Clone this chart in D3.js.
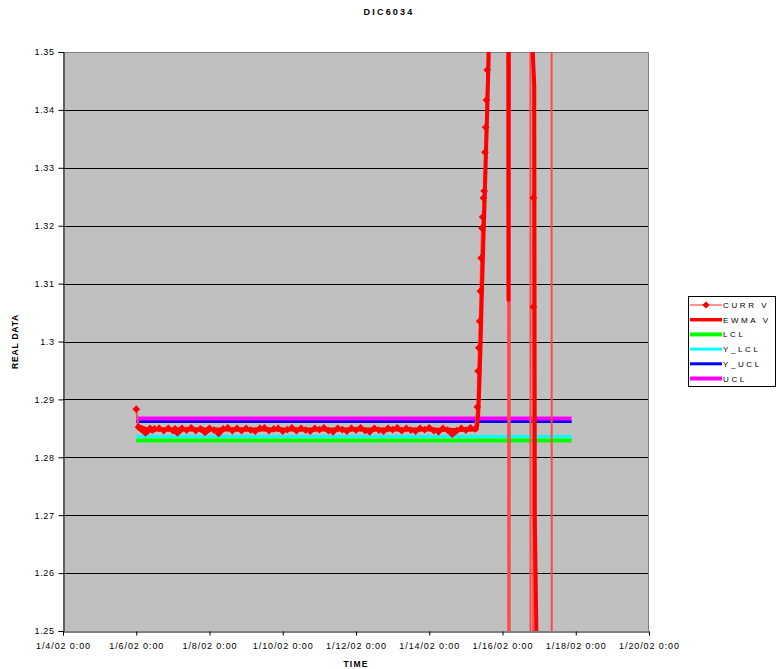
<!DOCTYPE html>
<html><head><meta charset="utf-8">
<script src="https://cdn.jsdelivr.net/npm/d3@7"></script>
<style>
body{margin:0;background:#fff;}
svg{display:block;font-family:Arial,"Liberation Sans",sans-serif;}
</style>
</head><body>
<svg id="chart" width="776" height="669"></svg>
<script>
// ---------------- data ----------------
const chartTitle = "DIC6034";
const xAxisTitle = "TIME";
const yAxisTitle = "REAL DATA";
const xTickDays = [4, 6, 8, 10, 12, 14, 16, 18, 20];
const xTickLabels = ["1/4/02 0:00","1/6/02 0:00","1/8/02 0:00","1/10/02 0:00","1/12/02 0:00","1/14/02 0:00","1/16/02 0:00","1/18/02 0:00","1/20/02 0:00"];
const yTickValues = [1.25, 1.26, 1.27, 1.28, 1.29, 1.3, 1.31, 1.32, 1.33, 1.34, 1.35];
const yTickLabels = ["1.25","1.26","1.27","1.28","1.29","1.3","1.31","1.32","1.33","1.34","1.35"];
const seriesNames = ["CURR V", "EWMA V", "LCL", "Y_LCL", "Y_UCL", "UCL"];
const seriesColors = ["#ff4a4a", "#ff0000", "#00ff00", "#00ffff", "#0000ff", "#ff00ff"];

// hours after 1/6/02 0:00
const currHours = [0,1.5,3,4.5,6,7.5,9,10.5,12,15,18,21,24,25.5,27,28.5,30,33,36,39,42,43.5,45,46.5,48,51,54,55.5,57,60,63,66,69,72,75,78,81,84,87,90,93,96,99,102,105,108,111,114,117,120,123,126,129,132,135,138,141,144,147,150,153,156,159,162,165,168,171,174,177,180,183,186,189,192,195,198,201,204,205.5,207,208.5,210,213,216,219,222,
  223.5,224,224.5,225,225.5,226,226.5,227,227.5,228,228.5,229,229.5,230,230.5,231,
  235,240,243.5,243.8,244.2,244.6,245,250,258.2,258.4,260.05,260.15,260.25,260.35,266,272.1,272.3,280,285.3];
const currValues = [1.2883,1.2852,1.2849,1.2846,1.2842,1.2845,1.2850,1.2847,1.2849,1.2850,1.2846,1.2850,1.2846,1.2849,1.2842,1.2846,1.2850,1.2847,1.2851,1.2846,1.2849,1.2847,1.2843,1.2846,1.2850,1.2847,1.2841,1.2846,1.2849,1.2851,1.2846,1.2850,1.2846,1.2850,1.2847,1.2845,1.2850,1.2851,1.2846,1.2849,1.2850,1.2845,1.2848,1.2851,1.2846,1.2850,1.2847,1.2845,1.2850,1.2848,1.2851,1.2846,1.2844,1.2850,1.2848,1.2845,1.2850,1.2847,1.2851,1.2846,1.2844,1.2850,1.2847,1.2845,1.2850,1.2848,1.2851,1.2846,1.2850,1.2847,1.2845,1.2850,1.2848,1.2851,1.2846,1.2844,1.2850,1.2847,1.2845,1.2840,1.2843,1.2846,1.2850,1.2847,1.2851,1.2849,
  1.2887,1.2949,1.2989,1.3035,1.3087,1.3144,1.3196,1.3215,1.3248,1.3260,1.3327,1.3370,1.3417,1.3469,1.3530,1.3800,
  1.40,1.42,1.45,1.20,1.45,1.20,1.45,1.44,1.45,1.20,1.20,1.306,1.3248,1.45,1.44,1.45,1.20,1.21,1.20];

const ewmaHours = [0,6,12,24,48,72,96,120,144,168,192,210,223,
  223.5,224,224.5,225,225.5,226,226.5,227,227.5,228,228.5,229,229.5,230,230.5,231,231.5,232,
  240,243.6,243.9,244.2,252,259.5,259.8,260.8,261.2,262.2,263,275,285.3];
const ewmaValues = [1.2855,1.2849,1.2848,1.2848,1.2848,1.2848,1.2848,1.2848,1.2848,1.2848,1.2848,1.2847,1.2848,
  1.2856,1.2872,1.2900,1.2940,1.2985,1.3035,1.3085,1.3132,1.3178,1.3220,1.3265,1.3310,1.3355,1.3400,1.3450,1.3500,1.3560,1.3700,
  1.40,1.42,1.3072,1.40,1.41,1.39,1.3500,1.3443,1.2692,1.2500,1.22,1.20,1.20];

const limitHours = [0, 285.3];
const lclValues  = [1.2829, 1.2829];
const ylclValues = [1.2836, 1.2836];
const yuclValues = [1.2862, 1.2862];
const uclValues  = [1.2867, 1.2867];

// ---------------- chart ----------------
const svg = d3.select("#chart");
const M = {left: 63, right: 649, top: 52, bottom: 631};
const base = new Date(2002, 0, 6, 0, 0, 0).getTime();
const toDate = h => new Date(base + h * 3600000);

const x = d3.scaleTime()
  .domain([new Date(2002, 0, 4), new Date(2002, 0, 20)])
  .range([M.left, M.right]);
const y = d3.scaleLinear().domain([1.25, 1.35]).range([M.bottom, M.top]);

svg.append("rect").attr("x", M.left).attr("y", M.top)
  .attr("width", M.right - M.left).attr("height", M.bottom - M.top)
  .attr("fill", "#c0c0c0");

svg.append("g").selectAll("line").data(yTickValues.filter(v => v > 1.25 && v < 1.35))
  .join("line")
  .attr("x1", M.left).attr("x2", M.right)
  .attr("y1", d => Math.round(y(d)) + 0.5).attr("y2", d => Math.round(y(d)) + 0.5)
  .attr("stroke", "#000").attr("stroke-width", 1);

svg.append("path")
  .attr("d", `M${M.left},${M.top + 0.5}H${M.right - 0.5}V${M.bottom}`)
  .attr("fill", "none").attr("stroke", "#808080").attr("stroke-width", 1);

svg.append("defs").append("clipPath").attr("id", "clip")
  .append("rect").attr("x", M.left).attr("y", M.top)
  .attr("width", M.right - M.left).attr("height", M.bottom - M.top);
const plot = svg.append("g").attr("clip-path", "url(#clip)");

const lineGen = d3.line().x(d => x(toDate(d[0]))).y(d => y(d[1]));

const limits = [
  {vals: lclValues,  color: seriesColors[2], w: 4},
  {vals: ylclValues, color: seriesColors[3], w: 3},
  {vals: yuclValues, color: seriesColors[4], w: 3},
  {vals: uclValues,  color: seriesColors[5], w: 4}
];
limits.forEach(s => {
  plot.append("path")
    .datum(limitHours.map((h, i) => [h, s.vals[i]]))
    .attr("d", lineGen).attr("fill", "none")
    .attr("stroke", s.color).attr("stroke-width", s.w);
});

const currData = currHours.map((h, i) => [h, currValues[i]]);
plot.append("path").datum(currData).attr("d", lineGen)
  .attr("fill", "none").attr("stroke", seriesColors[0]).attr("stroke-width", 2)
  .attr("stroke-linejoin", "round");

const ewmaData = ewmaHours.map((h, i) => [h, ewmaValues[i]]);
plot.append("path").datum(ewmaData).attr("d", lineGen)
  .attr("fill", "none").attr("stroke", seriesColors[1]).attr("stroke-width", 4)
  .attr("stroke-linejoin", "round");

const diamond = d3.symbol(d3.symbolSquare, 30)();
plot.append("g").selectAll("path").data(currData).join("path")
  .attr("d", diamond)
  .attr("transform", d => `translate(${x(toDate(d[0]))},${y(d[1])}) rotate(45)`)
  .attr("fill", "#ff0000");

const yAxis = svg.append("g").attr("transform", `translate(${M.left + 0.5},0)`)
  .call(d3.axisLeft(y).tickValues(yTickValues).tickSize(5).tickFormat((d, i) => yTickLabels[i]));
yAxis.select(".domain").attr("stroke", "#000");
yAxis.selectAll(".tick line").attr("stroke", "#000");
yAxis.selectAll("text").attr("font-size", 9).attr("fill", "#000")
  .attr("letter-spacing", 0.6).attr("x", -9).attr("font-family", "Arial, 'Liberation Sans', sans-serif");

const xTickDates = xTickDays.map(d => new Date(2002, 0, d));
const xAxis = svg.append("g").attr("transform", `translate(0,${M.bottom + 0.5})`)
  .call(d3.axisBottom(x).tickValues(xTickDates).tickSize(4).tickFormat((d, i) => xTickLabels[i]));
xAxis.select(".domain").attr("stroke", "#000");
xAxis.selectAll(".tick line").attr("stroke", "#000");
xAxis.selectAll("text").attr("font-size", 9).attr("fill", "#000")
  .attr("letter-spacing", 0.9).attr("y", 11).attr("font-family", "Arial, 'Liberation Sans', sans-serif");

svg.append("text").attr("x", 389).attr("y", 15).attr("text-anchor", "middle")
  .attr("font-size", 9).attr("font-weight", "bold").attr("letter-spacing", 2.2)
  .text(chartTitle);
svg.append("text").attr("x", 356).attr("y", 667).attr("text-anchor", "middle")
  .attr("font-size", 8.5).attr("font-weight", "bold").attr("letter-spacing", 1.2)
  .text(xAxisTitle);
svg.append("text").attr("transform", `translate(18,${(M.top + M.bottom) / 2}) rotate(-90)`)
  .attr("text-anchor", "middle")
  .attr("font-size", 8.5).attr("font-weight", "bold").attr("letter-spacing", 0.8)
  .text(yAxisTitle);

const lg = svg.append("g");
lg.append("rect").attr("x", 688.5).attr("y", 296.5).attr("width", 87).attr("height", 90)
  .attr("fill", "#fff").attr("stroke", "#000").attr("stroke-width", 1);
const legendWidths = [1.5, 3.5, 4, 3, 3, 4];
const legendY = d3.scalePoint().domain(seriesNames).range([305, 378.5]);
seriesNames.forEach((name, i) => {
  const yy = legendY(name);
  lg.append("line").attr("x1", 690).attr("x2", 722).attr("y1", yy).attr("y2", yy)
    .attr("stroke", i === 0 ? "#ff7070" : seriesColors[i]).attr("stroke-width", legendWidths[i]);
  if (i === 0) {
    lg.append("path").attr("d", d3.symbol(d3.symbolSquare, 26)())
      .attr("transform", `translate(706,${yy}) rotate(45)`).attr("fill", "#ff0000");
  }
  lg.append("text").attr("x", 723).attr("y", yy + 3)
    .attr("font-size", 8).attr("letter-spacing", 2.6).attr("fill", "#000")
    .text(name);
});
</script>
</body></html>
